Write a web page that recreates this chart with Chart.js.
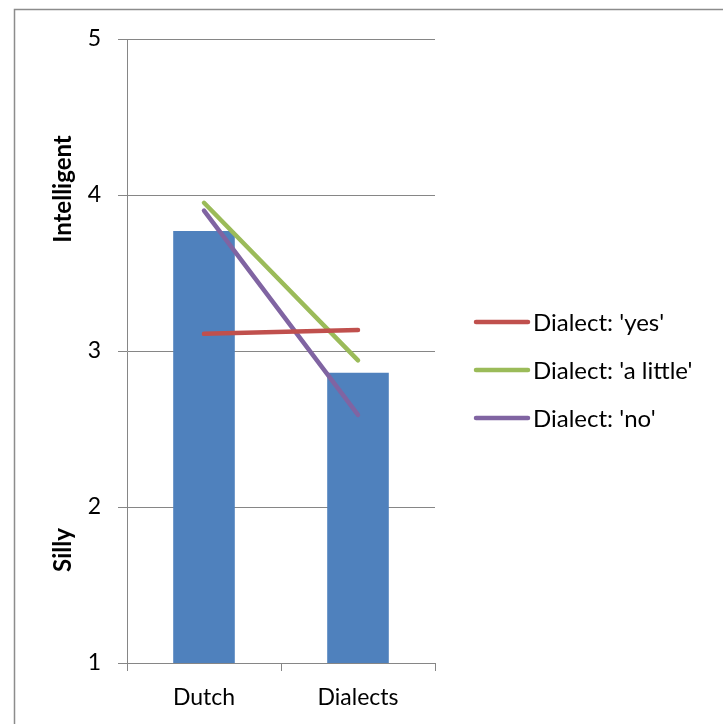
<!DOCTYPE html>
<html>
<head>
<meta charset="utf-8">
<script src="https://cdn.jsdelivr.net/npm/chart.js@4/dist/chart.umd.min.js"></script>
<style>
  html, body { margin: 0; padding: 0; background: #fff; }
  #wrap { width: 723px; height: 724px; position: relative; }
</style>
</head>
<body>
<div id="wrap"><canvas id="chart" width="723" height="724"></canvas></div>
<script>
const categories = ['Dutch', 'Dialects']
const overall = [3.77, 2.86]
const dialectYes = [3.11, 3.135]
const dialectLittle = [3.95, 2.94]
const dialectNo = [3.90, 2.59]
const seriesNames = ["Dialect: 'yes'", "Dialect: 'a little'", "Dialect: 'no'"]
const yTicks = [1, 2, 3, 4, 5]

const FONT = 'Lato, "Open Sans", sans-serif'

// frame, rotated axis labels and legend, drawn by hand like the Excel original
const extras = {
    id: 'extras',
    beforeDraw(chart) {
        const ctx = chart.ctx
        ctx.save()
        ctx.strokeStyle = '#8c8c8c'
        ctx.lineWidth = 1.5
        ctx.beginPath()
        ctx.moveTo(14.5, 724)
        ctx.lineTo(14.5, 9.5)
        ctx.lineTo(723, 9.5)
        ctx.stroke()
        ctx.restore()
    },
    afterDraw(chart) {
        const ctx = chart.ctx
        ctx.save()
        ctx.fillStyle = '#000'
        ctx.font = 'bold 24px ' + FONT
        ctx.textAlign = 'center'
        ctx.textBaseline = 'middle'
        ;[['Intelligent', 189], ['Silly', 550]].forEach(([t, y]) => {
            ctx.save()
            ctx.translate(63, y)
            ctx.rotate(-Math.PI / 2)
            ctx.fillText(t, 0, 0)
            ctx.restore()
        })
        // legend
        const lines = chart.data.datasets.filter((d) => d.type === 'line')
        ctx.font = '24px ' + FONT
        ctx.textAlign = 'left'
        lines.forEach((d, i) => {
            const y = 322 + i * 48
            ctx.strokeStyle = d.borderColor
            ctx.lineWidth = 4.5
            ctx.lineCap = 'round'
            ctx.beginPath()
            ctx.moveTo(476, y)
            ctx.lineTo(528, y)
            ctx.stroke()
            ctx.fillText(d.label, 533, y + 1)
        })
        ctx.restore()
    },
}

new Chart(document.getElementById('chart'), {
    type: 'bar',
    data: {
        labels: categories,
        datasets: [
            {
                label: seriesNames[0],
                type: 'line',
                data: dialectYes,
                borderColor: '#C0504D',
                borderWidth: 4.5,
                borderCapStyle: 'round',
                pointRadius: 0,
                order: 0,
            },
            {
                label: seriesNames[1],
                type: 'line',
                data: dialectLittle,
                borderColor: '#9BBB59',
                borderWidth: 4.5,
                borderCapStyle: 'round',
                pointRadius: 0,
                order: 0,
            },
            {
                label: seriesNames[2],
                type: 'line',
                data: dialectNo,
                borderColor: '#8064A2',
                borderWidth: 4.5,
                borderCapStyle: 'round',
                pointRadius: 0,
                order: 0,
            },
            {
                label: 'Overall',
                data: overall,
                backgroundColor: '#4F81BD',
                barPercentage: 0.4,
                categoryPercentage: 1,
                order: 1,
            },
        ],
    },
    options: {
        responsive: false,
        animation: false,
        layout: { padding: { left: 0, top: 39, right: 288, bottom: 0 } },
        plugins: { legend: { display: false }, tooltip: { enabled: false } },
        scales: {
            x: {
                offset: true,
                grid: {
                    offset: true,
                    drawOnChartArea: false,
                    color: '#868686',
                    tickLength: 8,
                },
                border: { color: '#868686' },
                ticks: { color: '#000', font: { family: FONT, size: 23 }, padding: 13 },
                afterFit: (s) => { s.height = 61 },
            },
            y: {
                min: 1,
                max: 5,
                afterBuildTicks: (s) => { s.ticks = yTicks.map((v) => ({ value: v })) },
                grid: { color: '#868686', tickLength: 9 },
                border: { color: '#868686' },
                ticks: { color: '#000', font: { family: FONT, size: 23 }, padding: 17 },
                afterFit: (s) => { s.width = 127 },
            },
        },
    },
    plugins: [extras],
})
</script>
</body>
</html>
